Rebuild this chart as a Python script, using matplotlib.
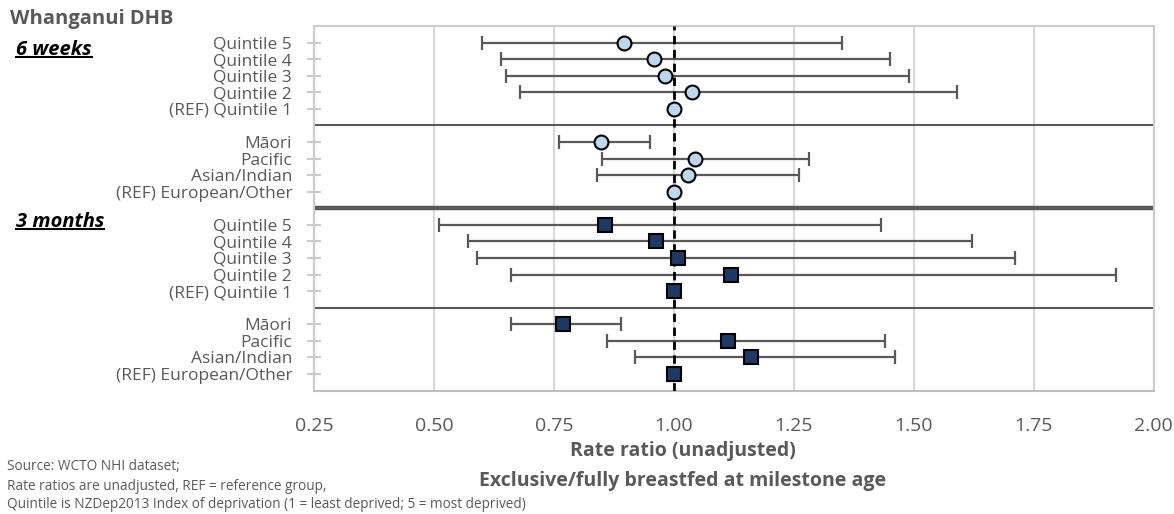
import matplotlib
matplotlib.use("Agg")
import matplotlib.pyplot as plt
from matplotlib.lines import Line2D
from matplotlib.ticker import FixedLocator, FormatStrFormatter

plt.rcParams['font.family'] = ['Open Sans', 'DejaVu Sans']

# ---- data ----
quint_labels = ["Quintile 5", "Quintile 4", "Quintile 3", "Quintile 2", "(REF) Quintile 1"]
eth_labels = ["Māori", "Pacific", "Asian/Indian", "(REF) European/Other"]

w6_quint_rr = [0.896, 0.959, 0.982, 1.037, 1.0]
w6_quint_lo = [0.600, 0.640, 0.651, 0.680, 1.0]
w6_quint_hi = [1.351, 1.450, 1.491, 1.591, 1.0]
w6_eth_rr = [0.849, 1.044, 1.029, 1.0]
w6_eth_lo = [0.761, 0.850, 0.840, 1.0]
w6_eth_hi = [0.950, 1.281, 1.260, 1.0]

m3_quint_rr = [0.856, 0.962, 1.009, 1.120, 1.0]
m3_quint_lo = [0.510, 0.571, 0.590, 0.660, 1.0]
m3_quint_hi = [1.431, 1.621, 1.711, 1.921, 1.0]
m3_eth_rr = [0.769, 1.112, 1.160, 1.0]
m3_eth_lo = [0.660, 0.860, 0.920, 1.0]
m3_eth_hi = [0.890, 1.441, 1.461, 1.0]

x_ticks = [0.25, 0.50, 0.75, 1.00, 1.25, 1.50, 1.75, 2.00]

# ---- layout ----
W, H = 1174, 514
fig = plt.figure(figsize=(W / 100, H / 100), dpi=100)
left, right, top, bottom = 314, 1153.5, 26, 390.5
ax = fig.add_axes([left / W, 1 - bottom / H, (right - left) / W, (bottom - top) / H])

grey = "#595959"
lightgrey = "#d9d9d9"

# row positions (top of axes = 0, bottom = 22)
pos_q6 = [1, 2, 3, 4, 5]
pos_e6 = [7, 8, 9, 10]
pos_q3 = [12, 13, 14, 15, 16]
pos_e3 = [18, 19, 20, 21]

def draw(rr, lo, hi, pos, marker, face, ms):
    for r, l, h, p in zip(rr, lo, hi, pos):
        if l != h:
            ax.errorbar([r], [p], xerr=[[r - l], [h - r]], fmt='none', ecolor=grey,
                        elinewidth=1.6, capsize=5, capthick=1.6, zorder=3)
    ax.plot(rr, pos, linestyle='none', marker=marker, markersize=ms,
            markerfacecolor=face, markeredgecolor='black', markeredgewidth=1.5, zorder=5)

draw(w6_quint_rr, w6_quint_lo, w6_quint_hi, pos_q6, 'o', '#bdd7ee', 10)
draw(w6_eth_rr, w6_eth_lo, w6_eth_hi, pos_e6, 'o', '#bdd7ee', 10)
draw(m3_quint_rr, m3_quint_lo, m3_quint_hi, pos_q3, 's', '#203864', 9.5)
draw(m3_eth_rr, m3_eth_lo, m3_eth_hi, pos_e3, 's', '#203864', 9.5)

# reference line
ax.axvline(1.0, color='black', linewidth=2, linestyle=(0, (3, 2)), zorder=4)

# separators
ax.axhline(6, color=grey, linewidth=1.5, zorder=2)
ax.axhline(17, color=grey, linewidth=1.5, zorder=2)
ax.axhline(11, color=grey, linewidth=3.2, zorder=2)

ax.set_xlim(0.25, 2.0)
ax.set_ylim(22, 0)

ax.xaxis.set_major_locator(FixedLocator(x_ticks))
ax.xaxis.set_major_formatter(FormatStrFormatter('%.2f'))
ax.grid(axis='x', color=lightgrey, linewidth=1.5, zorder=0)
ax.set_axisbelow(True)
ax.tick_params(axis='x', length=0, pad=19, labelsize=14, labelcolor=grey)

ax.set_yticks(pos_q6 + pos_e6 + pos_q3 + pos_e3)
ax.set_yticklabels(quint_labels + eth_labels + quint_labels + eth_labels)
ax.tick_params(axis='y', direction='inout', length=9.4, width=1.2, color='#bfbfbf',
               labelsize=12.5, labelcolor=grey, pad=11)

for s in ['top', 'right', 'left']:
    ax.spines[s].set_color('#cccccc')
    ax.spines[s].set_linewidth(1.5)
ax.spines['bottom'].set_color('#bfbfbf')
ax.spines['bottom'].set_linewidth(1.5)

# texts
fig.text(10 / W, 1 - 19 / H, "Whanganui DHB", fontsize=14.5, fontweight='bold', color=grey,
         va='center', ha='left')
t1 = fig.text(16 / W, 1 - 50 / H, "6 weeks", fontsize=14.5, fontweight='bold', fontstyle='italic',
              color='black', va='center', ha='left')
t2 = fig.text(16 / W, 1 - 222 / H, "3 months", fontsize=14.5, fontweight='bold', fontstyle='italic',
              color='black', va='center', ha='left')

fig.text(683 / W, 1 - 451 / H, "Rate ratio (unadjusted)", fontsize=14, fontweight='bold',
         color=grey, ha='center', va='center')
fig.text(683 / W, 1 - 481 / H, "Exclusive/fully breastfed at milestone age", fontsize=14,
         fontweight='bold', color=grey, ha='center', va='center')

foot = ["Source: WCTO NHI dataset;",
        "Rate ratios are unadjusted, REF = reference group,",
        "Quintile is NZDep2013 Index of deprivation (1 = least deprived; 5 = most deprived)"]
for yy, s in zip([466, 486, 505], foot):
    fig.text(7 / W, 1 - yy / H, s, fontsize=9.8, color=grey, ha='left', va='center')

# underline the section titles
fig.canvas.draw()
r = fig.canvas.get_renderer()
for t in (t1, t2):
    bb = t.get_window_extent(renderer=r)
    yline = bb.y0 + 3
    fig.add_artist(Line2D([bb.x0 / W, bb.x1 / W], [yline / H, yline / H], color='black',
                          linewidth=1.5, transform=fig.transFigure))

fig.savefig("out.png", dpi=100)
